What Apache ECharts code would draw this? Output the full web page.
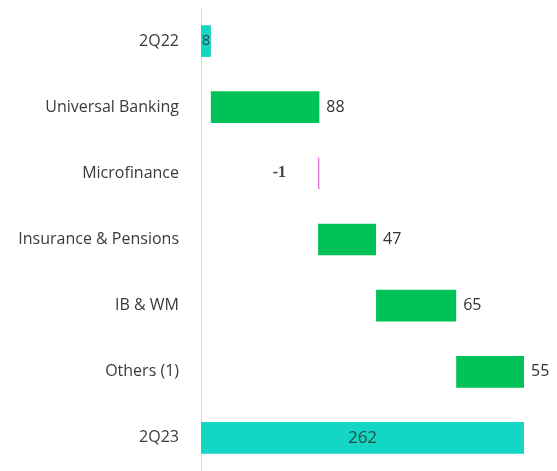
<!DOCTYPE html>
<html>
<head>
<meta charset="utf-8">
<script src="https://cdn.jsdelivr.net/npm/echarts@6/dist/echarts.min.js"></script>
<style>
  html, body { margin: 0; padding: 0; background: #ffffff; }
  #chart { width: 557px; height: 471px; }
</style>
</head>
<body>
<div id="chart"></div>
<script>
// Net income bridge, 2Q22 -> 2Q23
const categories = ['2Q22', 'Universal Banking', 'Microfinance', 'Insurance & Pensions', 'IB & WM', 'Others (1)', '2Q23'];
const changes = [8, 88, -1, 47, 65, 55, 262];
const kinds = ['total', 'delta', 'delta', 'delta', 'delta', 'delta', 'total'];

const colors = { total: '#13D6C4', up: '#00C257', down: '#E26AD9' };

// Waterfall: an invisible base bar plus the visible step bar
const baseData = [];
const stepData = [];
let running = 0;
changes.forEach((v, i) => {
  if (kinds[i] === 'total') {
    baseData.push(0);
    stepData.push({ value: v, label: v, itemStyle: { color: colors.total } });
    running = v;
  } else if (v >= 0) {
    baseData.push(running);
    stepData.push({ value: v, label: v, itemStyle: { color: colors.up } });
    running += v;
  } else {
    running += v;
    baseData.push(running);
    stepData.push({ value: -v, label: v, itemStyle: { color: colors.down } });
  }
});

const FONT = 'Open Sans, Liberation Sans, sans-serif';

const labelFor = (i) => {
  const common = { show: true, fontSize: 16, color: '#333333', fontFamily: FONT };
  if (i === 0) return Object.assign(common, { position: 'inside', color: '#2a4a4a', fontSize: 15 });
  if (i === categories.length - 1) return Object.assign(common, { position: 'inside', color: '#2a4a4a', fontSize: 17 });
  if (changes[i] < 0) return Object.assign(common, { position: 'left', distance: 32, fontFamily: 'Liberation Serif, serif', fontWeight: 'bold', fontSize: 16, color: '#444' });
  return Object.assign(common, { position: 'right', distance: 7 });
};

const chart = echarts.init(document.getElementById('chart'), null, { renderer: 'canvas' });
chart.setOption({
  animation: false,
  backgroundColor: '#ffffff',
  grid: { left: 201, right: 33, top: 8, bottom: -4, containLabel: false },
  xAxis: {
    type: 'value', min: 0, max: 262, show: false,
    splitLine: { show: false }
  },
  yAxis: {
    type: 'category', data: categories, inverse: true,
    axisLine: { show: true, lineStyle: { color: '#d9d9d9', width: 1 } },
    axisTick: { show: false },
    axisLabel: { margin: 22, fontSize: 16, color: '#3a3a3a', fontFamily: FONT }
  },
  series: [
    {
      type: 'bar', stack: 'wf', data: baseData, barWidth: '48%',
      itemStyle: { color: 'transparent' }, silent: true
    },
    {
      type: 'bar', stack: 'wf', barWidth: '48%',
      data: stepData.map((d, i) => ({
        value: d.value,
        itemStyle: d.itemStyle,
        label: Object.assign(labelFor(i), { formatter: String(d.label) })
      }))
    }
  ]
});
</script>
</body>
</html>
